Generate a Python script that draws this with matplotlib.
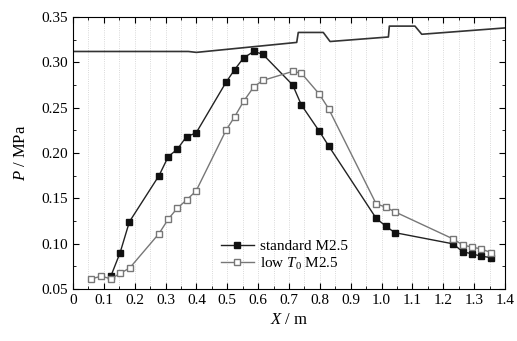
import matplotlib
matplotlib.use("Agg")
import matplotlib.pyplot as plt
from matplotlib.ticker import MultipleLocator

plt.rcParams['font.family'] = ['Liberation Serif', 'DejaVu Serif']
plt.rcParams['mathtext.fontset'] = 'custom'
plt.rcParams['mathtext.rm'] = 'Liberation Serif'
plt.rcParams['mathtext.it'] = 'Liberation Serif:italic'

# standard M2.5
x_std = [0.123, 0.153, 0.183, 0.279, 0.309, 0.338, 0.368, 0.399, 0.496, 0.524,
         0.553, 0.586, 0.615, 0.712, 0.740, 0.798, 0.828, 0.982, 1.014, 1.043,
         1.232, 1.262, 1.293, 1.323, 1.354]
p_std = [0.064, 0.090, 0.124, 0.175, 0.196, 0.204, 0.218, 0.222, 0.278, 0.292,
         0.305, 0.312, 0.309, 0.275, 0.253, 0.224, 0.208, 0.128, 0.119, 0.112,
         0.0996, 0.091, 0.0886, 0.086, 0.0845]

# low T0 M2.5
x_low = [0.060, 0.092, 0.123, 0.153, 0.184, 0.279, 0.309, 0.338, 0.368, 0.399,
         0.496, 0.524, 0.553, 0.586, 0.615, 0.712, 0.740, 0.798, 0.828, 0.982,
         1.014, 1.043, 1.232, 1.262, 1.293, 1.323, 1.354]
p_low = [0.061, 0.064, 0.061, 0.067, 0.073, 0.111, 0.127, 0.139, 0.148, 0.158,
         0.225, 0.240, 0.257, 0.273, 0.280, 0.290, 0.288, 0.265, 0.249, 0.144,
         0.140, 0.135, 0.105, 0.0985, 0.096, 0.094, 0.090]

# wall profile outline
x_prof = [0.0, 0.374, 0.40, 0.725, 0.730, 0.811, 0.833, 1.022, 1.025, 1.108, 1.130, 1.40]
p_prof = [0.312, 0.312, 0.311, 0.322, 0.333, 0.333, 0.323, 0.328, 0.340, 0.340, 0.331, 0.338]

fig = plt.figure(figsize=(5.17, 3.41), dpi=100)
ax = fig.add_axes([0.141, 0.153, 0.836, 0.797])

ax.plot(x_prof, p_prof, color='#333333', lw=1.2)
ax.plot(x_std, p_std, color='#222222', lw=1.0, marker='s', ms=4.3,
        mfc='#111111', mec='#111111', label='standard M2.5')
ax.plot(x_low, p_low, color='#777777', lw=1.0, marker='s', ms=4.3,
        mfc='white', mec='#777777', label='low $T_0$ M2.5')

ax.set_xlim(0, 1.4)
ax.set_ylim(0.05, 0.35)
ax.xaxis.set_major_locator(MultipleLocator(0.1))
ax.xaxis.set_minor_locator(MultipleLocator(0.05))
ax.yaxis.set_major_locator(MultipleLocator(0.05))
ax.yaxis.set_minor_locator(MultipleLocator(0.025))
ax.set_xticks([i / 10 for i in range(15)])
ax.set_xticklabels(['0'] + ['%.1f' % (i / 10) for i in range(1, 15)])
ax.set_yticklabels(['%.2f' % v for v in ax.get_yticks()])
ax.tick_params(which='both', direction='in', top=True, right=True, labelsize=11)
ax.tick_params(which='major', length=4)
ax.tick_params(which='minor', length=2.5)
ax.grid(True, which='both', axis='x', color='#cccccc', ls=':', lw=0.6)

ax.set_xlabel('$X$ / m', fontsize=12, labelpad=4)
ax.set_ylabel('$P$ / MPa', fontsize=12, labelpad=9)

ax.legend(loc='lower left', bbox_to_anchor=(0.31, 0.012), frameon=False,
          fontsize=11, handlelength=2.2, handletextpad=0.4, labelspacing=0.15)

fig.savefig('out.png', dpi=100)
